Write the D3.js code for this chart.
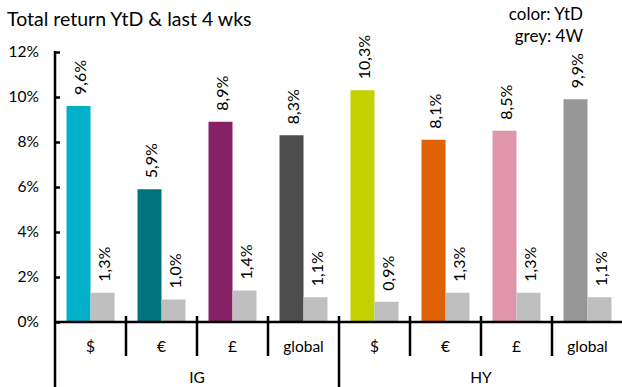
<!DOCTYPE html>
<html>
<head>
<meta charset="utf-8">
<script src="https://d3js.org/d3.v7.min.js"></script>
<style>
  body { margin: 0; background: #fff; }
  svg { display: block; font-family: Lato, "Open Sans", sans-serif; }
</style>
</head>
<body>
<div id="chart"></div>
<script>
// data
const groups = ["IG", "HY"];
const categories = ["$", "€", "£", "global", "$", "€", "£", "global"];
const categoryGroup = ["IG", "IG", "IG", "IG", "HY", "HY", "HY", "HY"];
const ytd = [9.6, 5.9, 8.9, 8.3, 10.3, 8.1, 8.5, 9.9];
const last4w = [1.3, 1.0, 1.4, 1.1, 0.9, 1.3, 1.3, 1.1];
const ytdColors = ["#00b0c8", "#00737f", "#862165", "#4d4d4d", "#c3d100", "#e06205", "#e096aa", "#979797"];
const greyColor = "#bfbfbf";
const yTicks = [0, 2, 4, 6, 8, 10, 12];

const width = 622, height = 387;
const plotLeft = 55, plotRight = 623, plotTop = 52, plotBottom = 322;

const svg = d3.select("#chart").append("svg")
    .attr("width", width)
    .attr("height", height);

const y = d3.scaleLinear().domain([0, 12]).range([plotBottom, plotTop]);
const x = d3.scaleBand().domain(d3.range(categories.length)).range([plotLeft, plotRight]).padding(0);
const xs = d3.scaleBand().domain(["ytd", "w4"]).range([0, x.bandwidth()]).paddingInner(0).paddingOuter(0.48);

const fmt = v => d3.format(".1f")(v).replace(".", ",") + "%";

// title + legend text
svg.append("text").attr("x", 7).attr("y", 26)
    .style("font-size", "19.5px").attr("fill", "#000")
    .text("Total return YtD & last 4 wks");
svg.append("text").attr("x", 583).attr("y", 20).attr("text-anchor", "end")
    .style("font-size", "17px").text("color: YtD");
svg.append("text").attr("x", 583).attr("y", 42).attr("text-anchor", "end")
    .style("font-size", "17px").text("grey: 4W");

// bars
const cat = svg.append("g").selectAll("g")
    .data(categories.map((c, i) => ({ i, c, ytd: ytd[i], w4: last4w[i] })))
    .join("g")
    .attr("transform", d => `translate(${x(d.i)},0)`);

cat.append("rect")
    .attr("x", xs("ytd")).attr("width", xs.bandwidth())
    .attr("y", d => y(d.ytd)).attr("height", d => y(0) - y(d.ytd))
    .attr("fill", d => ytdColors[d.i]);

cat.append("rect")
    .attr("x", xs("w4")).attr("width", xs.bandwidth())
    .attr("y", d => y(d.w4)).attr("height", d => y(0) - y(d.w4))
    .attr("fill", greyColor);

// rotated value labels
function addLabel(key, v) {
    cat.append("text")
        .attr("transform", d => `translate(${xs(key) + xs.bandwidth() / 2 + 2},${y(v(d)) - 11}) rotate(-90)`)
        .attr("dy", "0.35em")
        .style("font-size", "16px")
        .text(d => fmt(v(d)));
}
addLabel("ytd", d => d.ytd);
addLabel("w4", d => d.w4);

// y axis
const yAxis = svg.append("g")
    .attr("transform", `translate(${plotLeft},0)`)
    .call(d3.axisLeft(y).tickValues(yTicks).tickFormat(d => d + "%")
        .tickSizeInner(-5).tickSizeOuter(0).tickPadding(16));
yAxis.select(".domain").remove();
yAxis.selectAll(".tick line").attr("stroke", "#000").attr("stroke-width", 2.5);
yAxis.selectAll(".tick text").style("font-size", "15.5px").style("font-family", "Lato, 'Open Sans', sans-serif").attr("fill", "#000");

svg.append("line").attr("x1", plotLeft).attr("x2", plotLeft).attr("y1", plotTop - 1).attr("y2", height)
    .attr("stroke", "#000").attr("stroke-width", 2.5);

// x axis line
svg.append("line").attr("x1", plotLeft).attr("x2", plotRight).attr("y1", plotBottom).attr("y2", plotBottom)
    .attr("stroke", "#000").attr("stroke-width", 2.5);

// category separators
const seps = d3.range(1, categories.length);
svg.append("g").selectAll("line").data(seps).join("line")
    .attr("x1", i => x(i)).attr("x2", i => x(i))
    .attr("y1", plotBottom - 6)
    .attr("y2", i => categoryGroup[i] !== categoryGroup[i - 1] ? height : 356)
    .attr("stroke", "#000").attr("stroke-width", 2.5);

// category labels
svg.append("g").selectAll("text").data(categories).join("text")
    .attr("x", (c, i) => x(i) + x.bandwidth() / 2)
    .attr("y", 347).attr("dy", "0.35em")
    .attr("text-anchor", "middle")
    .style("font-size", "15.5px")
    .text(c => c);

// group labels
svg.append("g").selectAll("text").data(groups).join("text")
    .attr("x", g => {
        const idx = categoryGroup.map((c, i) => c === g ? i : -1).filter(i => i >= 0);
        return (x(idx[0]) + x(idx[idx.length - 1]) + x.bandwidth()) / 2;
    })
    .attr("y", 378).attr("dy", "0.35em")
    .attr("text-anchor", "middle")
    .style("font-size", "15.5px")
    .text(g => g);
</script>
</body>
</html>
